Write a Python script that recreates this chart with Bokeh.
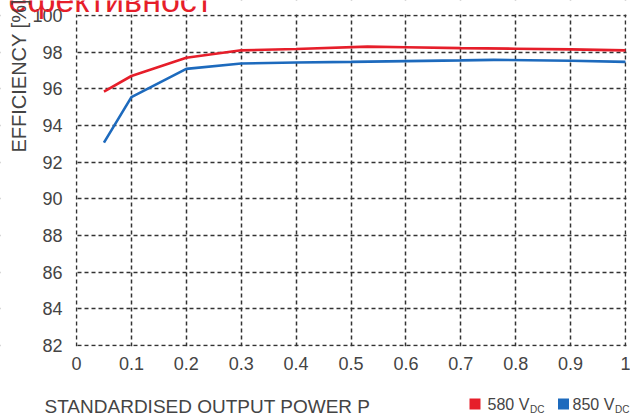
from bokeh.plotting import figure
from bokeh.models import Range1d, FixedTicker, Label, BoxAnnotation
from bokeh.embed import file_html
from bokeh.resources import INLINE
import math

# data
x_580 = [0.05, 0.1, 0.2, 0.3, 0.4, 0.53, 0.6, 0.7, 0.8, 0.9, 1.0]
eff_580 = [95.85, 96.7, 97.7, 98.1, 98.17, 98.3, 98.27, 98.22, 98.19, 98.15, 98.1]
x_850 = [0.05, 0.1, 0.2, 0.3, 0.4, 0.5, 0.6, 0.7, 0.76, 0.9, 1.0]
eff_850 = [93.07, 95.55, 97.09, 97.38, 97.44, 97.47, 97.51, 97.55, 97.58, 97.53, 97.47]
x_ticks = [0, 0.1, 0.2, 0.3, 0.4, 0.5, 0.6, 0.7, 0.8, 0.9, 1]
x_tick_labels = ["0", "0.1", "0.2", "0.3", "0.4", "0.5", "0.6", "0.7", "0.8", "0.9", "1"]
y_ticks = [82, 84, 86, 88, 90, 92, 94, 96, 98, 100]
title_text = "ефективност"
y_label = "EFFICIENCY [%]"
x_label = "STANDARDISED OUTPUT POWER P"
series_names = ["580 V", "850 V"]
sub_text = "DC"

RED = "#e61e2a"
BLUE = "#1d6abd"
GRAY = "#444444"
FONT = "Liberation Sans"

W, H = 630, 416
X0, X1, Y100, Y82 = 76, 625, 15, 345          # pixel positions of x=0, x=1, y=100, y=82
PX_X = (X1 - X0) / 1.0
PX_Y = (Y82 - Y100) / 18.0


def dx(px):
    return (px - X0) / PX_X


def dy(py):
    return 100 - (py - Y100) / PX_Y


p = figure(width=W, height=H, output_backend="svg", toolbar_location=None,
           x_range=Range1d(dx(0), dx(W)), y_range=Range1d(dy(H), dy(0)),
           min_border=0)
p.outline_line_color = None

p.xaxis[0].fixed_location = 82
p.yaxis[0].fixed_location = 0
for ax in (p.xaxis[0], p.yaxis[0]):
    ax.axis_line_color = None
    ax.major_tick_line_color = None
    ax.minor_tick_line_color = None
    ax.major_label_text_font = FONT
    ax.major_label_text_font_size = "18px"
    ax.major_label_text_color = GRAY

p.xaxis[0].ticker = FixedTicker(ticks=x_ticks)
p.xaxis[0].major_label_overrides = {t: l for t, l in zip(x_ticks, x_tick_labels)}
p.xaxis[0].major_label_standoff = 5
p.yaxis[0].ticker = FixedTicker(ticks=y_ticks)
p.yaxis[0].major_label_standoff = 8

p.xgrid[0].ticker = FixedTicker(ticks=x_ticks)
p.ygrid[0].ticker = FixedTicker(ticks=y_ticks)
for g in (p.xgrid[0], p.ygrid[0]):
    g.grid_line_color = "#333333"
    g.grid_line_width = 1.5
    g.grid_line_dash = "4 3"

# white masks so that the grid stops at the plotting area
for kw in (dict(bottom=dy(Y100 - 1)), dict(top=dy(Y82 + 1)),
           dict(right=dx(X0 - 1)), dict(left=dx(X1 + 1))):
    p.add_layout(BoxAnnotation(fill_color="white", fill_alpha=1, line_color=None,
                               level="underlay", **kw))

p.line(x_580, eff_580, line_color=RED, line_width=2.6)
p.line(x_850, eff_850, line_color=BLUE, line_width=2.6)

SHIFT = 0.32  # baseline correction (fraction of font size)


def lab(px, py, text, color, size, angle=0.0):
    s = SHIFT * size
    if angle:
        px -= s
    else:
        py -= s
    p.add_layout(Label(x=dx(px), y=dy(py), text=text, text_color=color, text_font=FONT,
                       text_font_size=f"{size}px", text_baseline="alphabetic", angle=angle))


lab(8, 10, title_text, RED, 34)
lab(25, 152, y_label, GRAY, 20, angle=math.pi / 2)
lab(44, 412, x_label, GRAY, 19)

# legend
legend_px = [(474.5, 487, RED), (563, 572, BLUE)]
for (sq, tx, col), name in zip(legend_px, series_names):
    p.scatter([dx(sq)], [dy(403.5)], marker="square", size=11, fill_color=col, line_color=None)
    lab(tx, 409, name, GRAY, 16)
    lab(tx + 42.5, 412, sub_text, GRAY, 10)

open("out.html", "w").write(file_html(p, INLINE))
